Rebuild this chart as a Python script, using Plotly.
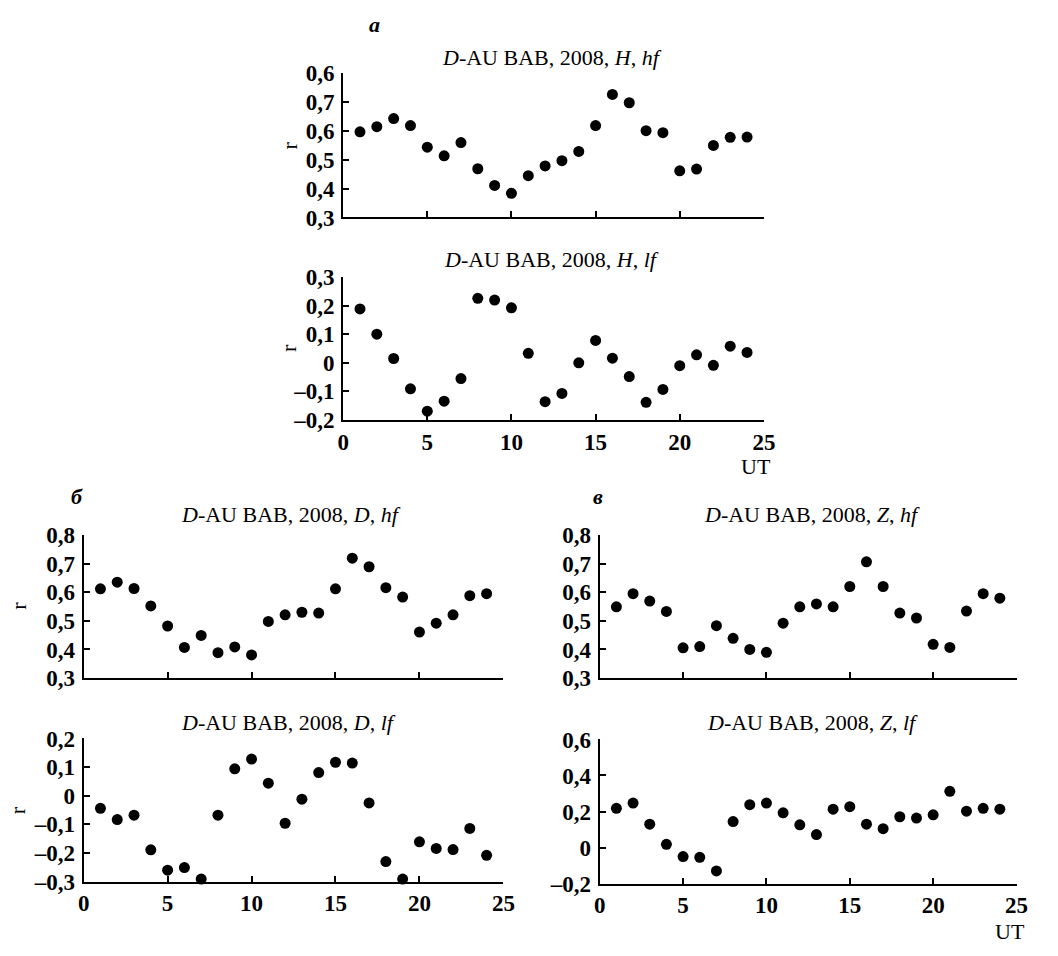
import plotly.graph_objects as go

ut = list(range(1, 25))
h_hf = [0.597, 0.615, 0.643, 0.619, 0.544, 0.514, 0.560, 0.469, 0.411, 0.384, 0.445, 0.479,
        0.497, 0.529, 0.619, 0.727, 0.698, 0.601, 0.594, 0.462, 0.468, 0.550, 0.578, 0.579]
h_lf = [0.188, 0.100, 0.015, -0.091, -0.169, -0.134, -0.055, 0.225, 0.219, 0.192, 0.033, -0.136,
        -0.107, 0.000, 0.078, 0.016, -0.048, -0.138, -0.093, -0.010, 0.028, -0.009, 0.058, 0.036]
d_hf = [0.612, 0.635, 0.613, 0.552, 0.482, 0.407, 0.449, 0.389, 0.409, 0.381, 0.498, 0.521,
        0.530, 0.527, 0.612, 0.719, 0.689, 0.616, 0.583, 0.461, 0.492, 0.521, 0.588, 0.595]
d_lf = [-0.044, -0.083, -0.068, -0.189, -0.260, -0.251, -0.291, -0.068, 0.094, 0.128, 0.044, -0.096,
        -0.012, 0.081, 0.117, 0.114, -0.025, -0.230, -0.291, -0.161, -0.184, -0.188, -0.114, -0.208]
z_hf = [0.549, 0.595, 0.569, 0.533, 0.406, 0.410, 0.483, 0.439, 0.400, 0.390, 0.492, 0.549,
        0.559, 0.549, 0.620, 0.706, 0.620, 0.527, 0.510, 0.418, 0.407, 0.534, 0.595, 0.579]
z_lf = [0.218, 0.247, 0.130, 0.018, -0.050, -0.054, -0.130, 0.144, 0.238, 0.247, 0.193, 0.126,
        0.072, 0.213, 0.227, 0.130, 0.105, 0.171, 0.164, 0.182, 0.312, 0.202, 0.218, 0.213]

titles = [
    "<i>D</i>-AU BAB, 2008, <i>H</i>, <i>hf</i>",
    "<i>D</i>-AU BAB, 2008, <i>H</i>, <i>lf</i>",
    "<i>D</i>-AU BAB, 2008, <i>D</i>, <i>hf</i>",
    "<i>D</i>-AU BAB, 2008, <i>D</i>, <i>lf</i>",
    "<i>D</i>-AU BAB, 2008, <i>Z</i>, <i>hf</i>",
    "<i>D</i>-AU BAB, 2008, <i>Z</i>, <i>lf</i>",
]
series = [h_hf, h_lf, d_hf, d_lf, z_hf, z_lf]

x_ticks = [0, 5, 10, 15, 20, 25]
x_ticktext = ["0", "5", "10", "15", "20", "25"]
hf_ticks = [0.3, 0.4, 0.5, 0.6, 0.7, 0.8]
hf_text = ["0,3", "0,4", "0,5", "0,6", "0,7", "0,8"]
hf_text_a = ["0,3", "0,4", "0,5", "0,6", "0,7", "0,6"]
hlf_ticks = [-0.2, -0.1, 0, 0.1, 0.2, 0.3]
hlf_text = ["–0,2", "–0,1", "0", "0,1", "0,2", "0,3"]
dlf_ticks = [-0.3, -0.2, -0.1, 0, 0.1, 0.2]
dlf_text = ["–0,3", "–0,2", "–0,1", "0", "0,1", "0,2"]
zlf_ticks = [-0.2, 0, 0.2, 0.4, 0.6]
zlf_text = ["–0,2", "0", "0,2", "0,4", "0,6"]

W, H = 1058, 956
FONT = "Liberation Serif"

# pixel boxes: (x0, x1, ytop, ybottom)
boxes = [
    (343, 771, 63, 211),
    (343, 771, 272, 419),
    (79, 506, 537, 684),
    (79, 506, 746, 893),
    (604, 1028, 537, 684),
    (604, 1028, 747, 895),
]
yinfo = [
    ([0.3, 0.8], hf_ticks, hf_text_a),
    ([-0.2, 0.3], hlf_ticks, hlf_text),
    ([0.3, 0.8], hf_ticks, hf_text),
    ([-0.3, 0.2], dlf_ticks, dlf_text),
    ([0.3, 0.8], hf_ticks, hf_text),
    ([-0.2, 0.6], zlf_ticks, zlf_text),
]
show_x = [False, True, False, True, False, True]

fig = go.Figure()
layout = dict(
    width=W, height=H, margin=dict(l=0, r=0, t=0, b=0),
    paper_bgcolor="white", plot_bgcolor="white", showlegend=False,
    font=dict(family=FONT, size=22, color="black"),
)
annotations = []
tickfont = dict(family=FONT, size=23, color="black", weight="bold")
for i, (box, ys) in enumerate(zip(boxes, series)):
    n = i + 1
    xa = "xaxis" if n == 1 else f"xaxis{n}"
    ya = "yaxis" if n == 1 else f"yaxis{n}"
    x0, x1, yt, yb = box
    rng, tv, tt = yinfo[i]
    common = dict(showline=True, linecolor="black", linewidth=2, ticks="inside",
                  ticklen=6, tickwidth=2, tickcolor="black", showgrid=False,
                  zeroline=False, tickfont=tickfont)
    layout[xa] = dict(domain=[x0 / W, x1 / W], anchor=f"y{n}", range=[0, 25],
                      tickmode="array", tickvals=x_ticks, ticktext=x_ticktext,
                      showticklabels=show_x[i], **common)
    layout[ya] = dict(domain=[1 - yb / H, 1 - yt / H], anchor=f"x{n}", range=rng,
                      tickmode="array", tickvals=tv, ticktext=tt, ticklabelstandoff=2, **common)
    fig.add_trace(go.Scatter(x=ut, y=ys, mode="markers", xaxis=f"x{n}", yaxis=f"y{n}",
                             marker=dict(color="black", size=11), cliponaxis=False))

title_pos = [(555, 47), (555, 254), (290, 516), (287, 730), (820, 516), (820, 730)]
for (tx, ty), t in zip(title_pos, titles):
    annotations.append(dict(x=tx / W, y=1 - ty / H, xref="paper", yref="paper", text=t,
                            showarrow=False, xanchor="center", yanchor="middle",
                            font=dict(family=FONT, size=22, color="black")))

# panel letters
for lx, ly, lt in [(375, 13, "а"), (72, 497, "б"), (602, 497, "в")]:
    annotations.append(dict(x=lx / W, y=1 - ly / H, xref="paper", yref="paper",
                            text=f"<b><i>{lt}</i></b>", showarrow=False,
                            xanchor="center", yanchor="middle",
                            font=dict(family=FONT, size=22, color="black")))

# y axis titles "r"
for rx, ry in [(288, 137), (288, 345), (12, 610), (12, 820)]:
    annotations.append(dict(x=rx / W, y=1 - ry / H, xref="paper", yref="paper", text="r",
                            textangle=-90, showarrow=False, xanchor="center", yanchor="middle",
                            font=dict(family=FONT, size=22, color="black")))

# UT labels
for ux, uy in [(763, 467), (1021, 944)]:
    annotations.append(dict(x=ux / W, y=1 - uy / H, xref="paper", yref="paper", text="UT",
                            showarrow=False, xanchor="center", yanchor="middle",
                            font=dict(family=FONT, size=22, color="black")))

layout["annotations"] = annotations
fig.update_layout(**layout)
fig.write_html("out.html", config={"displayModeBar": False},
               post_script="document.body.style.margin='0px';")
